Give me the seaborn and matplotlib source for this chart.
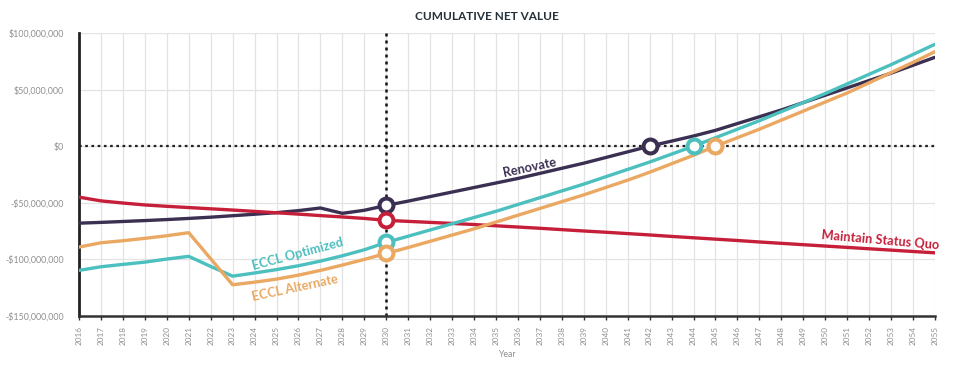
import numpy as np
import pandas as pd
import matplotlib
matplotlib.use("Agg")
import matplotlib.pyplot as plt
import seaborn as sns
from matplotlib.ticker import FuncFormatter

years = list(range(2016, 2056))

renovate = [-68.0, -67.3, -66.5, -65.7, -64.8, -63.8, -62.7, -61.4, -60.1, -58.7,
            -56.9, -54.6, -59.3, -56.6, -52.3, -48.5, -44.5, -40.5, -36.5, -32.5,
            -28.5, -24.0, -19.5, -15.0, -10.0, -5.0, 0.0, 4.5, 9.0, 14.0,
            20.0, 26.0, 32.0, 38.5, 45.0, 51.5, 58.0, 64.5, 71.5, 78.5]

status_quo = [-45.0, -48.3, -50.2, -51.9, -53.1, -54.2, -55.3, -56.4, -57.6, -58.8,
              -60.0, -61.3, -62.5, -63.8, -65.5, -66.4, -67.3, -68.2, -69.2, -70.3,
              -71.4, -72.5, -73.7, -74.9, -76.0, -77.2, -78.4, -79.7, -80.9, -82.1,
              -83.3, -84.6, -85.8, -87.0, -88.2, -89.4, -90.6, -91.8, -93.0, -94.2]

eccl_optimized = [-109.7, -106.5, -104.4, -102.4, -99.7, -97.3, -106.2, -114.8, -112.0, -109.0,
                  -105.6, -101.5, -96.8, -91.5, -85.0, -79.5, -74.0, -68.5, -63.0, -57.5,
                  -51.5, -45.5, -39.5, -33.5, -27.0, -20.5, -14.0, -7.0, 0.0, 7.5,
                  15.0, 22.5, 30.5, 38.5, 46.5, 55.0, 63.5, 72.0, 81.0, 90.0]

eccl_alternate = [-89.1, -85.3, -83.5, -81.4, -79.1, -76.4, -99.4, -122.4, -120.1, -117.4,
                  -113.9, -109.7, -105.0, -100.0, -94.7, -89.5, -84.0, -78.5, -73.0, -67.0,
                  -61.0, -55.0, -49.0, -43.0, -36.5, -30.0, -23.0, -15.5, -8.0, 0.0,
                  7.5, 15.0, 23.0, 31.0, 39.0, 47.0, 56.0, 65.0, 74.0, 83.5]

series_names = ["Renovate", "Maintain Status Quo", "ECCL Optimized", "ECCL Alternate"]
colors = {"Renovate": "#3b2f52", "Maintain Status Quo": "#c61f3a",
          "ECCL Optimized": "#4cbfbf", "ECCL Alternate": "#eaa862"}
marker_years = {"Renovate": [2030, 2042], "Maintain Status Quo": [2030],
                "ECCL Optimized": [2030, 2044], "ECCL Alternate": [2030, 2045]}

y_ticks = [100, 50, 0, -50, -100, -150]

df = pd.concat([
    pd.DataFrame({"Year": years, "Value": np.array(v) * 1e6, "Series": n})
    for n, v in zip(series_names, [renovate, status_quo, eccl_optimized, eccl_alternate])
])

sns.set_theme(style="white")
plt.rcParams["font.family"] = ["Lato", "DejaVu Sans"]

fig = plt.figure(figsize=(9.54, 3.69), dpi=100)
ax = fig.add_axes([0.0828, 0.1436, 0.8972, 0.767])

ax.set_xlim(2016, 2055)
ax.set_ylim(-150e6, 100e6)
ax.set_xticks(years)
ax.set_yticks([t * 1e6 for t in y_ticks])
ax.grid(True, color="#e3e3e3", linewidth=0.9)
ax.set_axisbelow(True)

ax.axhline(0, color="#222222", linestyle=(0, (1.2, 1.6)), linewidth=1.6, zorder=2)
ax.axvline(2030, color="#111111", linestyle=(0, (1.2, 1.6)), linewidth=1.8, zorder=2)

sns.lineplot(data=df, x="Year", y="Value", hue="Series", palette=colors,
             linewidth=2.4, legend=False, ax=ax, zorder=3)

mk = pd.concat([df[(df.Series == n) & (df.Year.isin(marker_years[n]))] for n in series_names])
for n in series_names:
    sub = mk[mk.Series == n]
    ax.scatter(sub.Year, sub.Value, s=100, facecolor="white", edgecolor=colors[n],
               linewidth=2.9, zorder=5, clip_on=False)

for s in ["top", "right"]:
    ax.spines[s].set_visible(False)
ax.spines["left"].set_color("#222222")
ax.spines["left"].set_linewidth(2.0)
ax.spines["bottom"].set_color("#333333")
ax.spines["bottom"].set_linewidth(1.8)

ax.yaxis.set_major_formatter(FuncFormatter(
    lambda v, p: ("-" if v < 0 else "") + "${:,.0f}".format(abs(v))))
ax.tick_params(axis="y", labelsize=6.4, labelcolor="#8f8f8f", length=0, pad=11)
ax.tick_params(axis="x", labelsize=5.9, labelcolor="#8f8f8f", rotation=90,
               length=3, width=1, color="#333333", bottom=True, pad=4)
ax.set_xlabel("Year", fontsize=6.3, color="#8f8f8f", labelpad=4)
ax.set_ylabel("")

fig.text(0.5105, 0.955, "CUMULATIVE NET VALUE", ha="center", va="center",
         fontsize=8.5, fontweight="bold", color="#24303a")

lbl = dict(fontsize=9.2, fontweight="bold", ha="center", va="center")
ax.text(2036.55, -18.5e6, "Renovate", color=colors["Renovate"], rotation=12, **lbl)
ax.text(2025.95, -95e6, "ECCL Optimized", color=colors["ECCL Optimized"], rotation=15, **lbl)
ax.text(2025.85, -125.5e6, "ECCL Alternate", color=colors["ECCL Alternate"], rotation=12, **lbl)
ax.text(2052.5, -83e6, "Maintain Status Quo", color=colors["Maintain Status Quo"],
        rotation=-5, **lbl)

fig.savefig("out.png", dpi=100)
